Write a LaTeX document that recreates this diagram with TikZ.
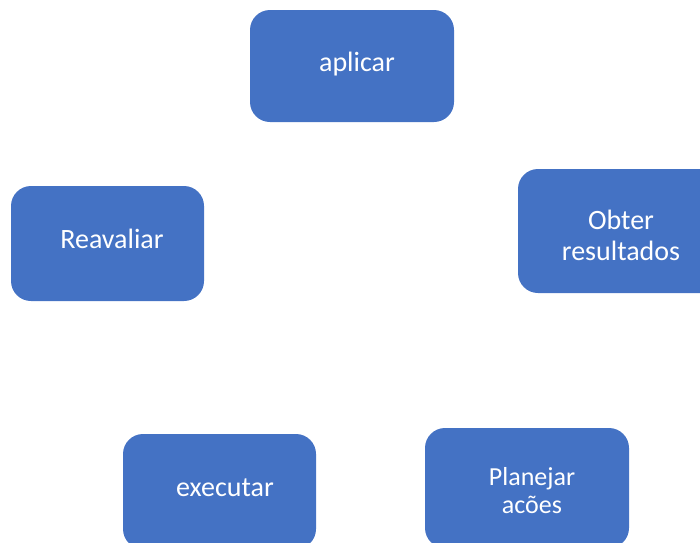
\documentclass[tikz,border=0pt]{standalone}
\usepackage{fontspec}
\setmainfont{Carlito}
\usepackage{tikz}
\definecolor{azul}{HTML}{4472C4}

\begin{document}
\begin{tikzpicture}[x=1pt,y=-1pt]
\tikzstyle{caixa}=[fill=azul, rounded corners=20pt, inner sep=0pt]
\tikzstyle{rotulo}=[text=white, font=\fontsize{28}{31}\selectfont, align=center, inner sep=0pt]
\useasboundingbox (0,0) rectangle (700,542);
\clip (0,0) rectangle (700,542);
\node[caixa, minimum width=204pt, minimum height=112pt] (aplicar) at (352,66) {};
\node[caixa, minimum width=204pt, minimum height=124pt] (obter) at (620,231) {};
\node[caixa, minimum width=204pt, minimum height=120pt] (planejar) at (527,488) {};
\node[caixa, minimum width=193pt, minimum height=115pt] (executar) at (219.5,491.5) {};
\node[caixa, minimum width=193pt, minimum height=115pt] (reavaliar) at (107.5,243.5) {};
\node[rotulo, anchor=base] (t-aplicar) at (357,71) {aplicar};
\node[rotulo] (t-obter) at (621,235) {Obter\\resultados};
\node[rotulo, font=\fontsize{26}{28}\selectfont] (t-planejar) at (532,491) {Planejar\\acões};
\node[rotulo, anchor=base] (t-executar) at (225,496) {executar};
\node[rotulo, anchor=base] (t-reavaliar) at (112,248) {Reavaliar};
\end{tikzpicture}
\end{document}
